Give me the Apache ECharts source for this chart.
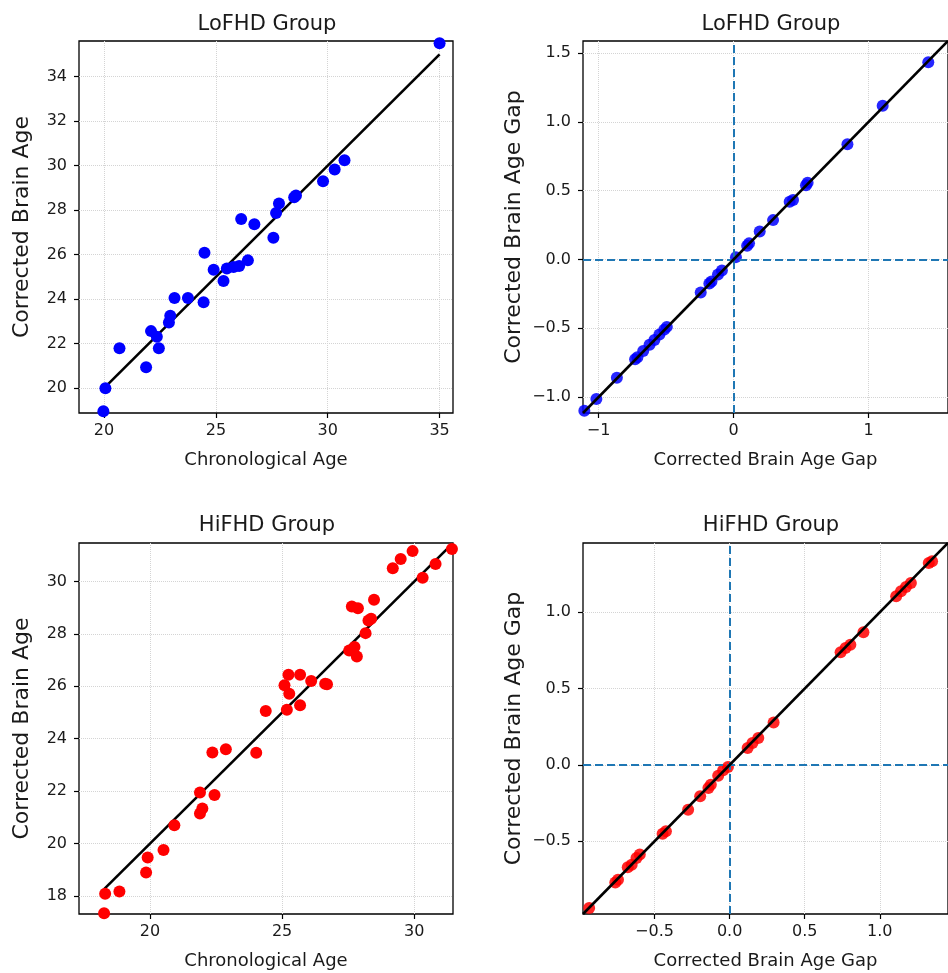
<!DOCTYPE html>
<html>
<head>
<meta charset="utf-8">
<script src="https://cdn.jsdelivr.net/npm/echarts@6/dist/echarts.min.js"></script>
<style>
  html, body { margin: 0; padding: 0; background: #fff; }
  #chart { width: 948px; height: 973px; }
</style>
</head>
<body>
<div id="chart"></div>
<script>
// ---------- Data ----------
const titles = ['LoFHD Group', 'LoFHD Group', 'HiFHD Group', 'HiFHD Group'];

// LoFHD: chronological age vs corrected brain age
const lofhdAge   = [35.0, 30.75, 30.31, 29.79, 28.58, 28.5, 27.82, 27.69, 27.57, 26.72, 26.13, 26.43, 26.04, 25.79, 25.49, 25.34, 24.9, 24.49, 24.45, 23.75, 23.15, 22.96, 22.9, 22.1, 22.36, 22.45, 20.69, 21.88, 20.06, 19.97];
const lofhdBrain = [35.5, 30.24, 29.82, 29.3, 28.66, 28.58, 28.3, 27.87, 26.76, 27.36, 27.6, 25.74, 25.49, 25.44, 25.37, 24.81, 25.32, 26.08, 23.86, 24.05, 24.05, 23.25, 22.95, 22.56, 22.31, 21.79, 21.79, 20.94, 19.99, 18.96];

// LoFHD: corrected brain age gap (x) vs corrected brain age gap (y)
const lofhdGapX = [1.442, 1.104, 0.843, 0.548, 0.536, 0.44, 0.415, 0.292, 0.193, 0.114, 0.10, 0.017, -0.087, -0.116, -0.164, -0.18, -0.244, -0.495, -0.514, -0.55, -0.587, -0.623, -0.67, -0.713, -0.73, -0.865, -1.017, -1.106];
const lofhdGapY = [1.434, 1.117, 0.837, 0.558, 0.54, 0.432, 0.42, 0.286, 0.204, 0.117, 0.10, 0.017, -0.08, -0.11, -0.16, -0.175, -0.24, -0.49, -0.51, -0.545, -0.585, -0.62, -0.665, -0.71, -0.725, -0.86, -1.015, -1.10];

// HiFHD: chronological age vs corrected brain age
const hifhdAge   = [18.26, 18.30, 18.84, 19.85, 19.91, 20.51, 20.92, 21.89, 21.98, 21.89, 22.44, 22.36, 22.87, 24.02, 24.38, 25.18, 25.68, 25.27, 25.09, 25.24, 25.68, 26.10, 26.63, 26.70, 27.54, 27.74, 27.83, 28.16, 28.27, 28.37, 28.48, 27.64, 27.87, 29.19, 29.49, 29.94, 30.32, 30.81, 31.43];
const hifhdBrain = [17.34, 18.08, 18.17, 18.89, 19.47, 19.75, 20.70, 21.15, 21.34, 21.95, 21.85, 23.47, 23.60, 23.46, 25.06, 25.11, 25.28, 25.72, 26.04, 26.44, 26.44, 26.20, 26.10, 26.08, 27.37, 27.50, 27.14, 28.03, 28.51, 28.58, 29.30, 29.05, 28.98, 30.51, 30.86, 31.16, 30.14, 30.67, 31.24];

// HiFHD: corrected brain age gap (x) vs corrected brain age gap (y)
const hifhdGapX = [1.348, 1.326, 1.207, 1.174, 1.141, 1.109, 0.891, 0.804, 0.772, 0.739, 0.293, 0.191, 0.152, 0.12, -0.011, -0.043, -0.076, -0.125, -0.141, -0.196, -0.276, -0.424, -0.446, -0.598, -0.62, -0.652, -0.678, -0.743, -0.761, -0.935];
const hifhdGapY = [1.334, 1.323, 1.192, 1.166, 1.138, 1.105, 0.869, 0.788, 0.766, 0.738, 0.279, 0.177, 0.144, 0.111, -0.013, -0.035, -0.07, -0.13, -0.151, -0.205, -0.293, -0.434, -0.45, -0.587, -0.609, -0.653, -0.67, -0.751, -0.769, -0.937];

// Axis limits
const lim1 = [18.88, 35.6];
const lim2 = [-1.116, 1.588];
const lim3 = [17.31, 31.47];
const lim4 = [-0.976, 1.454];

// Tick values
const ticks1X = [20, 25, 30, 35];
const ticks1Y = [20, 22, 24, 26, 28, 30, 32, 34];
const ticks2X = [-1, 0, 1];
const ticks2Y = [-1.0, -0.5, 0.0, 0.5, 1.0, 1.5];
const ticks3X = [20, 25, 30];
const ticks3Y = [18, 20, 22, 24, 26, 28, 30];
const ticks4X = [-0.5, 0.0, 0.5, 1.0];
const ticks4Y = [-0.5, 0.0, 0.5, 1.0];

// ---------- Helpers ----------
const FONT = 'DejaVu Sans';
const TXT = '#1a1a1a';
const zip = (a, b) => a.map((v, i) => [v, b[i]]);
const minus = s => String(s).replace('-', '\u2212');
const fmtInt = v => minus(Math.round(v));
const fmt1 = v => minus((Math.round(v * 10) / 10).toFixed(1));

const grids = [
  { left: 79,  top: 41,  width: 374, height: 372 },
  { left: 583, top: 41,  width: 374, height: 372 },
  { left: 79,  top: 543, width: 374, height: 371 },
  { left: 583, top: 543, width: 374, height: 371 }
].map(g => Object.assign(g, { show: true, borderColor: '#000', borderWidth: 1.3, backgroundColor: '#fff' }));

function axis(gridIndex, lim, ticks, fmt, name, isY) {
  return {
    type: 'value', gridIndex, min: lim[0], max: lim[1], name,
    position: isY ? 'left' : 'bottom',
    nameLocation: 'middle',
    nameGap: isY ? (gridIndex % 2 === 0 ? 46 : 58) : 38,
    nameRotate: isY ? 90 : 0,
    nameTextStyle: { fontFamily: FONT, fontSize: isY ? 22 : 18, color: TXT },
    axisLine: { show: false, onZero: false },
    axisTick: { show: true, inside: false, length: 5, customValues: ticks, lineStyle: { color: '#000', width: 1.2 } },
    axisLabel: { show: true, customValues: ticks, formatter: fmt, fontFamily: FONT, fontSize: 16, color: TXT, margin: isY ? 12 : 10 },
    splitLine: { show: true, lineStyle: { type: 'dotted', color: '#d4d4d4', width: 1 } }
  };
}

const xAxis = [
  axis(0, lim1, ticks1X, fmtInt, 'Chronological Age', false),
  axis(1, lim2, ticks2X, fmtInt, 'Corrected Brain Age Gap', false),
  axis(2, lim3, ticks3X, fmtInt, 'Chronological Age', false),
  axis(3, lim4, ticks4X, fmt1, 'Corrected Brain Age Gap', false)
];
const yAxis = [
  axis(0, lim1, ticks1Y, fmtInt, 'Corrected Brain Age', true),
  axis(1, lim2, ticks2Y, fmt1, 'Corrected Brain Age Gap', true),
  axis(2, lim3, ticks3Y, fmtInt, 'Corrected Brain Age', true),
  axis(3, lim4, ticks4Y, fmt1, 'Corrected Brain Age Gap', true)
];

const title = titles.map((t, i) => ({
  text: t,
  left: grids[i].left + grids[i].width / 2 - 4,
  top: i < 2 ? 9 : 510,
  textAlign: 'center',
  textStyle: { fontFamily: FONT, fontSize: 21, fontWeight: 'normal', color: TXT }
}));

function scatter(idx, data, color, opacity, z) {
  return {
    type: 'scatter', xAxisIndex: idx, yAxisIndex: idx, data,
    symbol: 'circle', symbolSize: 12, clip: true, z,
    itemStyle: { color, opacity }
  };
}
function line(idx, xs, z) {
  return {
    type: 'line', xAxisIndex: idx, yAxisIndex: idx,
    data: xs.map(v => [v, v]), symbol: 'none', clip: true, z,
    lineStyle: { color: '#000', width: 2.6 }
  };
}
function zeroLines(idx) {
  return {
    type: 'line', xAxisIndex: idx, yAxisIndex: idx, data: [], z: 4,
    markLine: {
      silent: true, symbol: 'none', label: { show: false },
      lineStyle: { color: '#1f77b4', type: [8, 4], width: 2 },
      data: [{ xAxis: 0 }, { yAxis: 0 }]
    }
  };
}

const ext = a => [Math.min(...a), Math.max(...a)];

const series = [
  line(0, [20, 35], 2),
  scatter(0, zip(lofhdAge, lofhdBrain), '#0000ff', 1, 3),
  scatter(1, zip(lofhdGapX, lofhdGapY), '#0000ff', 0.85, 2),
  zeroLines(1),
  line(1, lim2, 5),
  line(2, ext(hifhdAge), 2),
  scatter(2, zip(hifhdAge, hifhdBrain), '#ff0000', 1, 3),
  scatter(3, zip(hifhdGapX, hifhdGapY), '#ff0000', 0.85, 2),
  zeroLines(3),
  line(3, lim4, 5)
];

const chart = echarts.init(document.getElementById('chart'), null, { renderer: 'canvas' });
chart.setOption({
  animation: false,
  backgroundColor: '#fff',
  title, grid: grids, xAxis, yAxis, series
});
</script>
</body>
</html>
